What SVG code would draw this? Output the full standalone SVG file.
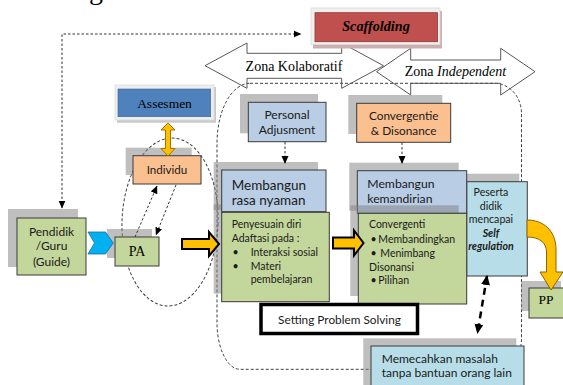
<svg xmlns="http://www.w3.org/2000/svg" width="563" height="385" viewBox="0 0 563 385">
<defs>
<marker id="ah" markerWidth="8" markerHeight="8" refX="7.5" refY="4" orient="auto-start-reverse" markerUnits="userSpaceOnUse"><path d="M0,0.5 L8,4 L0,7.5 Z" fill="#000"/></marker>
<marker id="ahb" markerWidth="10" markerHeight="10" refX="9" refY="5" orient="auto-start-reverse" markerUnits="userSpaceOnUse"><path d="M0,0.5 L10,5 L0,9.5 Z" fill="#000"/></marker>
</defs>
<style>
.sh{fill:#7f7f7f;fill-opacity:.5}
.box{stroke:#3a3a3a;stroke-width:1}
.g{fill:#C3D69B}.b{fill:#B9CDE5}.o{fill:#FAC090}.lb{fill:#B7DEE8}
.s{font-family:Lato,'Open Sans',sans-serif;fill:#1a1a1a}
.t{font-family:'Liberation Serif','Times New Roman',serif;fill:#000}
.dash{fill:none;stroke:#404040;stroke-width:1;stroke-dasharray:3 2}
.yel{fill:#FFC000;stroke:#000;stroke-width:2;stroke-linejoin:miter}
.zona{fill:none;stroke:#595959;stroke-width:1}
</style>
<rect width="563" height="385" fill="#fff"/>
<text class="t" x="89" y="-1" font-size="28">g</text>

<g id="zones">
<path class="dash" d="M250,83.3 H495 A27,30 0 0 1 521.5,113 V340 A30,30 0 0 1 491.5,369.3 H240 A23,47 0 0 1 217,322 V143.3 A33,60 0 0 1 250,83.3 Z"/>
<ellipse class="dash" cx="170" cy="222" rx="48" ry="84" transform="rotate(2 170 222)"/>
</g>

<g id="zona-kolaboratif">
<path class="zona" d="M205,65.7 L247,43 L247,53.3 L341.7,53.3 L341.7,43 L383.5,65.7 L341.7,88.3 L341.7,78.3 L247,78.3 L247,88.3 Z"/>
<text class="t" x="294" y="70.5" font-size="14" text-anchor="middle">Zona Kolaboratif</text>
</g>
<g id="zona-independent">
<path class="zona" d="M376.5,71.7 L410.7,48.3 L410.7,60 L500.7,60 L500.7,48.3 L535,71.7 L500.7,95 L500.7,83.3 L410.7,83.3 L410.7,95 Z"/>
<text class="t" x="455.5" y="76" font-size="14" text-anchor="middle">Zona <tspan font-style="italic">Independent</tspan></text>
</g>

<g id="scaffolding">
<rect x="313" y="11" width="129" height="37.5" fill="#CDAFAF"/>
<rect x="311" y="8" width="129" height="36.5" fill="#EFEFEF" stroke="#DADADA" stroke-width="0.8"/>
<rect x="315" y="12.7" width="122.5" height="29" fill="#C0504D" stroke="#8C3836" stroke-width="0.8"/>
<text class="t" x="376" y="31" font-size="14.2" font-weight="bold" font-style="italic" text-anchor="middle">Scaffolding</text>
</g>

<g id="assesmen">
<rect x="117" y="87" width="99" height="35.7" fill="#C8C8C8"/>
<rect x="115" y="85" width="99" height="35" fill="#EEEEEE" stroke="#DDDDDD" stroke-width="0.8"/>
<rect x="118" y="89" width="92.7" height="27.7" fill="#4F81BD" stroke="#3A6595" stroke-width="0.6"/>
<text class="t" x="164.5" y="108" font-size="13.5" text-anchor="middle">Assesmen</text>
</g>

<g id="pendidik">
<rect class="sh" x="8" y="209" width="70" height="58"/>
<rect class="box g" x="17" y="218" width="69" height="57"/>
<text class="s" font-size="12" text-anchor="middle"><tspan x="51.5" y="236.3">Pendidik</tspan><tspan x="51.5" y="250">/Guru</tspan><tspan x="51.5" y="265.5">(Guide)</tspan></text>
</g>

<g id="pa">
<rect class="sh" x="107" y="229" width="45" height="29"/>
<rect class="box g" x="115" y="237" width="44" height="29"/>
<text class="t" x="137" y="256" font-size="14" text-anchor="middle">PA</text>
</g>

<g id="individu">
<rect class="sh" x="125.7" y="147.7" width="66" height="27.3"/>
<rect class="box o" x="133" y="155.7" width="68" height="28.3"/>
<text class="s" x="167" y="174" font-size="11.6" text-anchor="middle">Individu</text>
</g>

<g id="personal-adjusment">
<rect class="sh" x="240" y="94" width="78" height="39.3"/>
<rect class="box b" x="248.3" y="102.3" width="77.7" height="39.4"/>
<text class="s" font-size="12" text-anchor="middle"><tspan x="287" y="118.5">Personal</tspan><tspan x="287" y="133.5">Adjusment</tspan></text>
</g>

<g id="convergentie">
<rect class="sh" x="348.3" y="95" width="94" height="39"/>
<rect class="box o" x="356.7" y="103.3" width="94" height="39"/>
<text class="s" font-size="11.8" text-anchor="middle"><tspan x="403.7" y="120">Convergentie</tspan><tspan x="403.7" y="135">&amp; Disonance</tspan></text>
</g>

<g id="rasa-nyaman">
<rect class="sh" x="213.7" y="204.3" width="107.6" height="89.4"/>
<rect class="sh" x="213.7" y="162" width="104.3" height="48"/>
<rect class="box b" x="221.7" y="170" width="104.3" height="41.7"/>
<rect class="box g" x="221.7" y="212.3" width="107.6" height="89.4"/>
<text class="s" font-size="13.5"><tspan x="231.7" y="189.5">Membangun</tspan><tspan x="231.7" y="205">rasa nyaman</tspan></text>
<text class="s" font-size="10.5"><tspan x="231.7" y="227.7">Penyesuain diri</tspan><tspan x="231.7" y="242.3">Adaftasi pada :</tspan><tspan x="232.5" y="256">•</tspan><tspan x="250.7" y="256">Interaksi sosial</tspan><tspan x="232.5" y="270">•</tspan><tspan x="250.7" y="270">Materi</tspan><tspan x="250.7" y="283">pembelajaran</tspan></text>
</g>

<g id="peserta">
<rect class="sh" x="458.7" y="173.7" width="60.6" height="94.3"/>
<rect class="box lb" x="466.7" y="181.7" width="60.6" height="94.3"/>
<text class="s" font-size="10.6" text-anchor="middle"><tspan x="491" y="196">Peserta</tspan><tspan x="491" y="209.5">didik</tspan><tspan x="491" y="223">mencapai</tspan><tspan x="491" y="236.5" font-weight="bold" font-style="italic">Self</tspan><tspan x="491" y="250" font-weight="bold" font-style="italic">regulation</tspan></text>
</g>

<g id="kemandirian">
<rect class="sh" x="349.3" y="162.7" width="109.4" height="48"/>
<rect class="box b" x="357.3" y="170.7" width="109.4" height="42.6"/>
<rect class="sh" x="350.3" y="205.3" width="108.4" height="90.7"/>
<rect class="box g" x="358.3" y="213.3" width="108.4" height="90.7"/>
<text class="s" font-size="12.2"><tspan x="367.3" y="188.3">Membangun</tspan><tspan x="367.3" y="203.3">kemandirian</tspan></text>
<text class="s" font-size="10.5"><tspan x="369" y="228.3">Convergenti</tspan><tspan x="370.5" y="243.3">•</tspan><tspan x="378.3" y="243.3">Membandingkan</tspan><tspan x="370.5" y="256.5">•</tspan><tspan x="380.3" y="256.5">Menimbang</tspan><tspan x="369" y="270.5">Disonansi</tspan><tspan x="370.5" y="284">•</tspan><tspan x="378.3" y="284">Pilihan</tspan></text>
</g>

<g id="setting">
<rect x="261" y="304.5" width="156.5" height="29" fill="#fff" stroke="#000" stroke-width="3.5"/>
<text class="s" x="339.5" y="323.5" font-size="11.8" text-anchor="middle">Setting Problem Solving</text>
</g>

<g id="memecahkan">
<rect class="sh" x="363.3" y="338.3" width="153" height="50"/>
<rect class="box lb" x="371" y="346" width="153" height="45"/>
<text class="s" font-size="12"><tspan x="381.7" y="362.5">Memecahkan masalah</tspan><tspan x="381.7" y="377">tanpa bantuan orang lain</tspan></text>
</g>

<g id="pp">
<rect class="sh" x="521" y="281" width="40" height="30"/>
<rect class="box g" x="529" y="288" width="40" height="30"/>
<text class="t" x="546" y="304" font-size="13.5" text-anchor="middle">PP</text>
</g>

<g id="connectors">
<path d="M62,208 V34 H301" fill="none" stroke="#333" stroke-width="1" stroke-dasharray="2.5 2" marker-start="url(#ah)" marker-end="url(#ah)"/>
<path d="M285,142 V163.5" fill="none" stroke="#333" stroke-width="1" stroke-dasharray="2.5 2" marker-end="url(#ah)"/>
<path d="M402,142.5 V163.5" fill="none" stroke="#333" stroke-width="1" stroke-dasharray="2.5 2" marker-end="url(#ah)"/>
<path d="M135,237 L157,186" fill="none" stroke="#333" stroke-width="1" stroke-dasharray="2.5 2" marker-end="url(#ah)"/>
<path d="M176,185 L156,235" fill="none" stroke="#333" stroke-width="1" stroke-dasharray="2.5 2" marker-end="url(#ah)"/>
<path d="M487,276 L477.5,333" fill="none" stroke="#000" stroke-width="2.5" stroke-dasharray="7 5" marker-start="url(#ahb)" marker-end="url(#ahb)"/>
<path d="M88,232 L105.5,232 L113.3,243 L105.5,254 L88,254 L94.5,243 Z" fill="#00B0F0" stroke="#1B6E96" stroke-width="0.8"/>
<path class="yel" d="M182,239 H209 V232 L219,244 L209,256 V249 H182 Z"/>
<path class="yel" d="M333,237.5 H354 V230.5 L363.5,243 L354,255.5 V248.5 H333 Z"/>
<path d="M168,123 L175,130 L170.5,130 L170.5,148.5 L175,148.5 L168,156 L161,148.5 L165.5,148.5 L165.5,130 L161,130 Z" fill="#FFC000" stroke="#A66F00" stroke-width="1"/>
<path d="M527,220 C543,220 556,230 556,250 L556,272 L563,272 L551,290 L540,272 L546.5,272 L546.5,252 C546.5,243 540,237 527,237 Z" fill="#FFC000" stroke="#8A6400" stroke-width="1"/>
</g>
</svg>
